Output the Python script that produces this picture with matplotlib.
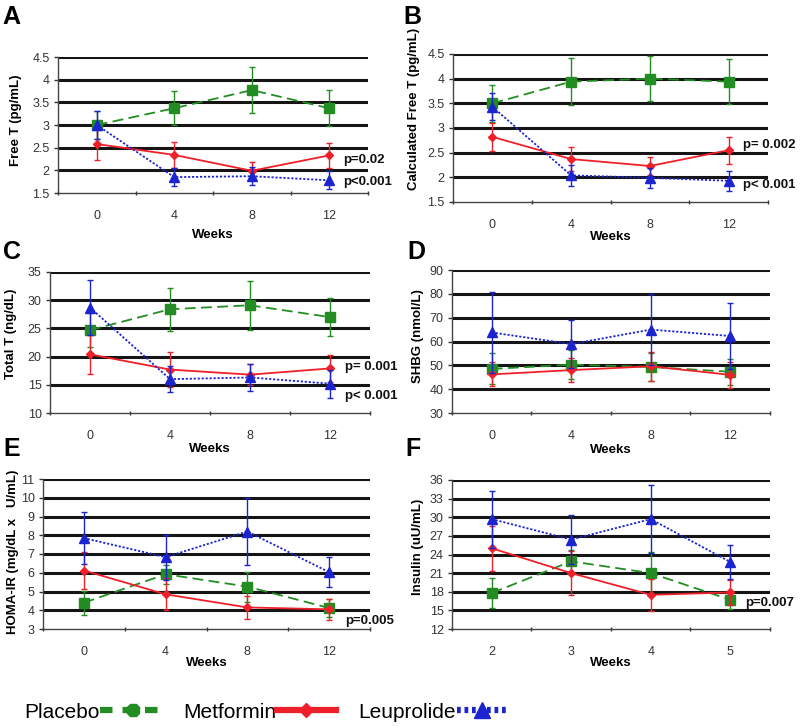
import matplotlib
matplotlib.use("Agg")
import matplotlib.pyplot as plt
from matplotlib.lines import Line2D

# ---------------- data ----------------
weeks_main = ['0', '4', '8', '12']
weeks_F = ['2', '3', '4', '5']

# A: Free T
A_placebo = [3.00, 3.37, 3.77, 3.37]
A_placebo_err = [0.30, 0.37, 0.50, 0.40]
A_metformin = [2.58, 2.34, 1.99, 2.33]
A_metformin_err = [0.35, 0.28, 0.20, 0.28]
A_leuprolide = [3.00, 1.85, 1.87, 1.78]
A_leuprolide_err = [0.30, 0.20, 0.20, 0.20]

# B: Calculated free T
B_placebo = [3.50, 3.94, 4.00, 3.94]
B_placebo_err = [0.37, 0.47, 0.46, 0.46]
B_metformin = [2.82, 2.37, 2.23, 2.55]
B_metformin_err = [0.28, 0.25, 0.18, 0.27]
B_leuprolide = [3.43, 2.04, 1.99, 1.93]
B_leuprolide_err = [0.27, 0.22, 0.20, 0.20]

# C: Total T
C_placebo = [24.7, 28.4, 29.1, 27.0]
C_placebo_err = [3.0, 3.8, 4.3, 3.4]
C_metformin = [20.4, 17.7, 16.8, 17.9]
C_metformin_err = [3.4, 3.1, 1.9, 2.4]
C_leuprolide = [28.7, 16.0, 16.3, 15.2]
C_leuprolide_err = [4.9, 2.3, 2.4, 2.5]

# D: SHBG
D_placebo = [48.5, 50.3, 49.3, 47.3]
D_placebo_err = [6.5, 6.0, 6.0, 5.5]
D_metformin = [46.2, 48.0, 49.6, 46.0]
D_metformin_err = [5.0, 5.0, 6.0, 5.5]
D_leuprolide = [63.8, 58.9, 65.0, 62.3]
D_leuprolide_err = [17.0, 10.0, 15.0, 14.0]

# E: HOMA-IR
E_placebo = [4.40, 5.92, 5.26, 4.12]
E_placebo_err = [0.65, 0.50, 0.80, 0.50]
E_metformin = [6.12, 4.85, 4.15, 4.05]
E_metformin_err = [1.0, 0.85, 0.60, 0.55]
E_leuprolide = [7.85, 6.83, 8.20, 6.03]
E_leuprolide_err = [1.40, 1.20, 1.80, 0.80]

# F: Insulin
F_placebo = [17.8, 22.9, 21.0, 16.7]
F_placebo_err = [2.4, 1.8, 3.4, 1.5]
F_metformin = [25.0, 21.0, 17.5, 17.9]
F_metformin_err = [3.6, 3.6, 2.6, 2.0]
F_leuprolide = [29.7, 26.4, 29.7, 22.8]
F_leuprolide_err = [4.6, 4.0, 5.5, 2.7]

# ---------------- styling ----------------
GREEN = '#238c23'
RED = '#f0202a'
BLUE = '#1c24d0'

plt.rcParams['font.family'] = ['Liberation Sans', 'DejaVu Sans']

fig = plt.figure(figsize=(8.0, 7.26), dpi=100)
W, H = 800.0, 726.0


def add_ax(left, right, top, bottom):
    return fig.add_axes([left / W, 1 - bottom / H, (right - left) / W, (bottom - top) / H])


panels = [
    # letter, letter pos (x, baseline y), axes px (l, r, t, b), ylim, yticks, ylabel,
    # ylabel centre (x, y), xlabels, data, pvals, weeks y
    ('A', (2, 24), (58, 368, 57, 193), (1.5, 4.5), [1.5, 2, 2.5, 3, 3.5, 4, 4.5],
     ['1.5', '2', '2.5', '3', '3.5', '4', '4.5'], 'Free T (pg/mL)', (16, 120), weeks_main,
     (A_placebo, A_placebo_err, A_metformin, A_metformin_err, A_leuprolide, A_leuprolide_err),
     [('p=0.02', 160), ('p<0.001', 182)], 235),
    ('B', (403, 24), (453, 768, 54, 202), (1.5, 4.5), [1.5, 2, 2.5, 3, 3.5, 4, 4.5],
     ['1.5', '2', '2.5', '3', '3.5', '4', '4.5'], 'Calculated Free T (pg/mL)', (414, 109), weeks_main,
     (B_placebo, B_placebo_err, B_metformin, B_metformin_err, B_leuprolide, B_leuprolide_err),
     [('p= 0.002', 145), ('p< 0.001', 185)], 237),
    ('C', (3, 259), (50, 370, 272, 413), (10, 35), [10, 15, 20, 25, 30, 35],
     ['10', '15', '20', '25', '30', '35'], 'Total T (ng/dL)', (11, 334), weeks_main,
     (C_placebo, C_placebo_err, C_metformin, C_metformin_err, C_leuprolide, C_leuprolide_err),
     [('p= 0.001', 367), ('p< 0.001', 396)], 449),
    ('D', (407, 259), (452, 770, 270, 413), (30, 90), [30, 40, 50, 60, 70, 80, 90],
     ['30', '40', '50', '60', '70', '80', '90'], 'SHBG (nmol/L)', (418, 336), weeks_main,
     (D_placebo, D_placebo_err, D_metformin, D_metformin_err, D_leuprolide, D_leuprolide_err),
     [], 450),
    ('E', (3, 456), (43, 370, 479, 629), (3, 11), [3, 4, 5, 6, 7, 8, 9, 10, 11],
     ['3', '4', '5', '6', '7', '8', '9', '10', '11'], 'HOMA-IR (mg/dL x   U/mL)', (13, 552), weeks_main,
     (E_placebo, E_placebo_err, E_metformin, E_metformin_err, E_leuprolide, E_leuprolide_err),
     [('p=0.005', 621)], 663),
    ('F', (405, 456), (452, 770, 480, 629), (12, 36), [12, 15, 18, 21, 24, 27, 30, 33, 36],
     ['12', '15', '18', '21', '24', '27', '30', '33', '36'], 'Insulin (uU/mL)', (418, 547), weeks_F,
     (F_placebo, F_placebo_err, F_metformin, F_metformin_err, F_leuprolide, F_leuprolide_err),
     [('p=0.007', 603)], 663),
]

for (letter, lpos, (l, r, t, b), ylim, yticks, yticklabels, ylabel, ylpos, xlabels, data, pvals, wy) in panels:
    ax = add_ax(l, r, t, b)
    x = list(range(len(xlabels)))
    pl, ple, me, mee, le, lee = data

    # gridlines (thick black), skip the bottom which is the spine
    for yv in yticks[1:]:
        ax.axhline(yv, color='#151515', lw=2.2, zorder=1)

    ax.errorbar(x, pl, yerr=ple, color=GREEN, ls=(0, (6, 3)), lw=1.3, marker='s', ms=7,
                mfc=GREEN, mec=GREEN, capsize=2.5, elinewidth=1.0, zorder=3)
    ax.errorbar(x, me, yerr=mee, color=RED, ls='-', lw=1.3, marker='D', ms=4.5,
                mfc=RED, mec=RED, capsize=2.5, elinewidth=1.0, zorder=4)
    ax.errorbar(x, le, yerr=lee, color=BLUE, ls=(0, (1.2, 1.0)), lw=1.3, marker='^', ms=7,
                mfc=BLUE, mec=BLUE, capsize=2.5, elinewidth=1.0, zorder=5)

    ax.set_xlim(-0.5, len(xlabels) - 0.5)
    ax.set_ylim(*ylim)
    ax.set_yticks(yticks)
    ax.set_yticklabels(yticklabels)
    ax.set_xticks(x)
    ax.set_xticklabels(xlabels)
    ax.set_xticks([i - 0.5 for i in range(len(xlabels) + 1)], minor=True)
    ax.tick_params(axis='x', which='major', length=0, pad=12, labelsize=9, labelcolor='#333333')
    ax.tick_params(axis='x', which='minor', length=3, width=1.0, color='#333333', direction='inout')
    ax.tick_params(axis='y', which='major', length=3, width=1.0, color='#333333',
                   labelsize=9, labelcolor='#333333', pad=3)
    for s in ('top', 'right'):
        ax.spines[s].set_visible(False)
    for s in ('left', 'bottom'):
        ax.spines[s].set_color('#444444')
        ax.spines[s].set_linewidth(1.0)

    ax.set_ylabel(ylabel, fontsize=9.5, fontweight='bold')
    # label coordinate refers to the baseline side (right edge) of the rotated text
    ax.yaxis.set_label_coords((ylpos[0] + 6 - l) / (r - l), (b - ylpos[1]) / (b - t))

    fig.text(((l + r) / 2) / W, 1 - wy / H, 'Weeks', ha='center', va='center',
             fontsize=9.5, fontweight='bold')
    fig.text(lpos[0] / W, 1 - lpos[1] / H, letter, ha='left', va='baseline',
             fontsize=18, fontweight='bold')
    for txt, py in pvals:
        fig.text((r - 25) / W, 1 - py / H, txt, ha='left', va='center',
                 fontsize=9.5, fontweight='bold', color='#111111')

# ---------------- legend ----------------
legend_labels = ['Placebo', 'Metformin', 'Leuprolide']
legend_x = [24, 183, 358]
legend_hlen = [3.1, 2.8, 2.4]
handles = [
    Line2D([], [], color=GREEN, ls=(0, (2.0, 1.6)), lw=4.5, marker='8', ms=10,
           mfc=GREEN, mec=GREEN),
    Line2D([], [], color=RED, ls='-', lw=4.5, marker='D', ms=7, mfc=RED, mec=RED),
    Line2D([], [], color=BLUE, ls=(0, (0.6, 0.6)), lw=4.5, marker='^', ms=11, mfc=BLUE, mec=BLUE),
]
for hnd, lab, lx, hl in zip(handles, legend_labels, legend_x, legend_hlen):
    fig.legend([hnd], [lab], loc='center left', bbox_to_anchor=(lx / W, 1 - 712 / H),
               markerfirst=False, frameon=False, handlelength=hl, handletextpad=0.05,
               borderpad=0, borderaxespad=0, prop={'size': 15})

fig.savefig('out.png', dpi=100)
